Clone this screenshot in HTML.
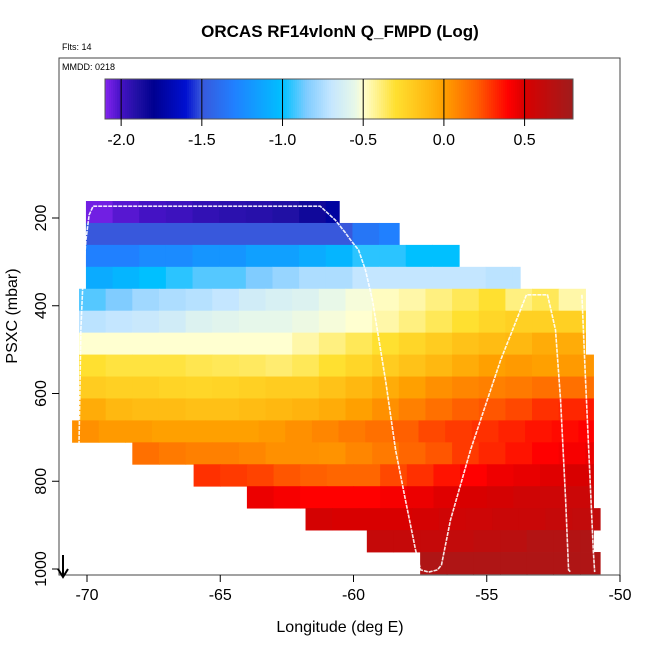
<!DOCTYPE html>
<html><head><meta charset="utf-8"><style>
html,body{margin:0;padding:0;background:#fff;overflow:hidden;width:650px;height:650px;}
svg{display:block;}
svg text{font-family:"Liberation Sans",sans-serif;}
</style></head><body>
<svg id="chart" width="650" height="650" viewBox="0 0 650 650">
<text x="340" y="37" text-anchor="middle" font-size="17" font-weight="bold">ORCAS RF14vlonN Q_FMPD (Log)</text>
<text x="62" y="50" font-size="9">Flts: 14</text>
<text x="62" y="70" font-size="9">MMDD: 0218</text>
<g id="cells"></g>
<g id="track"></g>
<g id="cbar"></g>
<rect x="59" y="58" width="561" height="517" fill="none" stroke="#444" stroke-width="1"/>
<g id="axes"></g>
<text x="340" y="632" text-anchor="middle" font-size="16">Longitude (deg E)</text>
<text transform="translate(17,316) rotate(-90)" text-anchor="middle" font-size="16">PSXC (mbar)</text>
<g><line x1="63" y1="555" x2="63" y2="576" stroke="#000" stroke-width="2"/><path d="M58 569 L63 577 L68 569" fill="none" stroke="#000" stroke-width="2"/></g>
</svg>
<script>
const xTicks=[-70,-65,-60,-55,-50];
const yTicks=[200,400,600,800,1000];
const cbTicks=[-2.0,-1.5,-1.0,-0.5,0.0,0.5];
const rowStart=[-70.04,-70.04,-70.04,-70.04,-70.3,-70.3,-70.3,-70.3,-70.3,-70.3,-70.56,-68.3,-66.0,-64.0,-61.8,-59.5,-57.5];
const rowEnd=[-60.54,-58.29,-56.0,-53.75,-51.28,-51.28,-51.28,-51.0,-51.0,-51.0,-51.0,-51.0,-51.0,-51.0,-50.75,-51.0,-50.75];
const rowP0=161.3;
const rowDp=50;
const rowValues=[
[-2.07,-2.03,-2.0,-1.98,-1.95,-1.93,-1.92,-1.9,-1.85,-1.75],
[-1.5,-1.5,-1.5,-1.5,-1.5,-1.5,-1.5,-1.5,-1.5,-1.5,-1.35,-1.3],
[-1.3,-1.3,-1.25,-1.25,-1.2,-1.2,-1.15,-1.15,-1.1,-1.05,-0.95,-0.95,-1.0,-1.0],
[-1.1,-1.05,-1.0,-0.95,-0.9,-0.9,-0.85,-0.8,-0.75,-0.75,-0.7,-0.7,-0.7,-0.7,-0.7,-0.72,-0.72],
[-0.9,-0.85,-0.78,-0.75,-0.73,-0.7,-0.65,-0.62,-0.6,-0.55,-0.52,-0.48,-0.45,-0.4,-0.35,-0.3,-0.4,-0.35,-0.45],
[-0.72,-0.7,-0.68,-0.65,-0.6,-0.58,-0.56,-0.56,-0.54,-0.52,-0.5,-0.45,-0.4,-0.35,-0.3,-0.25,-0.22,-0.22,-0.22],
[-0.5,-0.5,-0.5,-0.5,-0.5,-0.5,-0.5,-0.5,-0.45,-0.4,-0.35,-0.3,-0.25,-0.2,-0.15,-0.12,-0.1,-0.05,-0.05],
[-0.3,-0.32,-0.32,-0.32,-0.34,-0.35,-0.36,-0.38,-0.35,-0.3,-0.25,-0.2,-0.15,-0.1,-0.05,0,0.02,0.0,0.02,0.03],
[-0.2,-0.22,-0.22,-0.24,-0.25,-0.24,-0.22,-0.2,-0.2,-0.15,-0.1,-0.05,0,0.05,0.08,0.1,0.12,0.15,0.15,0.15],
[-0.05,-0.1,-0.12,-0.12,-0.14,-0.14,-0.12,-0.1,-0.08,-0.05,0,0.05,0.1,0.15,0.2,0.22,0.25,0.3,0.32,0.35],
[0.05,0.02,0.02,0.0,0.0,0.0,0.0,0.02,0.05,0.08,0.12,0.15,0.2,0.25,0.28,0.3,0.33,0.36,0.38,0.4],
[0.15,0.12,0.1,0.1,0.08,0.05,0.05,0.04,0.08,0.12,0.18,0.22,0.28,0.32,0.36,0.4,0.42,0.45],
[0.3,0.28,0.26,0.22,0.2,0.18,0.18,0.25,0.3,0.36,0.4,0.44,0.46,0.48,0.5],
[0.45,0.42,0.4,0.4,0.4,0.42,0.45,0.48,0.5,0.52,0.55,0.56,0.57],
[0.52,0.5,0.5,0.5,0.52,0.55,0.56,0.58,0.58,0.6,0.62,0.65],
[0.6,0.6,0.6,0.62,0.64,0.66,0.7,0.7,0.72],
[0.72,0.72,0.72,0.72,0.72,0.72,0.72]
];
const trackLon=[-70.3,-70.26,-70.23,-70.15,-70.04,-69.92,-69.77,-61.25,-60.68,-60.3,-60.11,-59.81,-59.55,-59.29,-58.8,-58.42,-58.05,-57.67,-57.48,-57.18,-56.85,-56.7,-56.36,-55.61,-54.48,-53.51,-52.72,-52.42,-52.23,-52.04,-51.93,-51.85];
const trackP=[717,569,455,341,250,193,173,173,205,234,250,273,319,387,569,729,843,957,1002,1007,1002,991,888,729,524,375,375,455,615,843,1002,1007];
const track2Lon=[-51.43,-51.3,-51.15,-51.0,-50.95];
const track2P=[375,560,760,960,1007];
const NS='http://www.w3.org/2000/svg';
const stops=[[-2.1,'#8424f0'],[-2.0,'#4412c4'],[-1.9,'#2010a4'],[-1.8,'#000090'],[-1.6,'#0010d0'],[-1.5,'#3858dc'],[-1.3,'#2080ff'],[-1.0,'#00c0ff'],[-0.85,'#80ccff'],[-0.7,'#c4e6ff'],[-0.55,'#e8f8e8'],[-0.5,'#ffffd0'],[-0.3,'#ffe030'],[-0.1,'#ffb810'],[0.0,'#ffa000'],[0.2,'#ff6000'],[0.4,'#ff0000'],[0.5,'#d80000'],[0.8,'#a01c1c']];
function hex(c){return [parseInt(c.slice(1,3),16),parseInt(c.slice(3,5),16),parseInt(c.slice(5,7),16)];}
function color(v){
  if(v<=stops[0][0])return stops[0][1];
  for(let i=1;i<stops.length;i++){if(v<=stops[i][0]){const a=stops[i-1],b=stops[i];const t=(v-a[0])/(b[0]-a[0]);const A=hex(a[1]),B=hex(b[1]);return 'rgb('+A.map((x,k)=>Math.round(x+(B[k]-x)*t)).join(',')+')';}}
  return stops[stops.length-1][1];
}
const xs=lon=>87+(lon+70)*26.65;
const ys=p=>218+(p-200)*0.43875;
const cbx=v=>105+(v+2.1)*(468/2.9);
const cells=document.getElementById('cells');
rowValues.forEach((vals,r)=>{
  const y0=ys(rowP0+r*rowDp),y1=ys(rowP0+(r+1)*rowDp);
  vals.forEach((v,c)=>{
    const l0=rowStart[r]+c, l1=Math.min(rowStart[r]+c+1,rowEnd[r]);
    const el=document.createElementNS(NS,'rect');
    el.setAttribute('x',xs(l0));el.setAttribute('y',y0);
    el.setAttribute('width',xs(l1)-xs(l0)+0.6);el.setAttribute('height',Math.min(y1-y0+0.4,575-y0));
    el.setAttribute('fill',color(v));
    
    
    cells.appendChild(el);
  });
});
const track=document.getElementById('track');
[[trackLon,trackP],[track2Lon,track2P]].forEach(([lo,pr])=>{
  const pl=document.createElementNS(NS,'polyline');
  pl.setAttribute('points',lo.map((l,i)=>xs(l)+','+ys(pr[i])).join(' '));
  pl.setAttribute('fill','none');pl.setAttribute('stroke','#fff');pl.setAttribute('stroke-width','1.6');pl.setAttribute('stroke-dasharray','4 1');pl.setAttribute('opacity','0.9');
  
  
  track.appendChild(pl);
});
const cb=document.getElementById('cbar');
for(let i=0;i<234;i++){
  const v=-2.1+2.9*(i+0.5)/234;
  const el=document.createElementNS(NS,'rect');
  el.setAttribute('x',105+i*2);el.setAttribute('y',79);el.setAttribute('width',2.3);el.setAttribute('height',40);el.setAttribute('fill',color(v));
  
  
  cb.appendChild(el);
}
const cbf=document.createElementNS(NS,'rect');
cbf.setAttribute('x',105);cbf.setAttribute('y',79);cbf.setAttribute('width',468);cbf.setAttribute('height',40);cbf.setAttribute('fill','none');cbf.setAttribute('stroke','#555');


cb.appendChild(cbf);
cbTicks.forEach(v=>{
  const x=cbx(v);
  const ln=document.createElementNS(NS,'line');
  ln.setAttribute('x1',x);ln.setAttribute('x2',x);ln.setAttribute('y1',79);ln.setAttribute('y2',126);ln.setAttribute('stroke','#000');ln.setAttribute('stroke-width','1');
  
  
  cb.appendChild(ln);
  const t=document.createElementNS(NS,'text');
  t.setAttribute('x',x);t.setAttribute('y',145);t.setAttribute('text-anchor','middle');t.setAttribute('font-size','16');
  t.textContent=v.toFixed(1);
  
  
  cb.appendChild(t);
});
const ax=document.getElementById('axes');
xTicks.forEach(v=>{
  const x=xs(v);
  const ln=document.createElementNS(NS,'line');
  ln.setAttribute('x1',x);ln.setAttribute('x2',x);ln.setAttribute('y1',575);ln.setAttribute('y2',582);ln.setAttribute('stroke','#000');
  
  
  ax.appendChild(ln);
  const t=document.createElementNS(NS,'text');
  t.setAttribute('x',x);t.setAttribute('y',600);t.setAttribute('text-anchor','middle');t.setAttribute('font-size','16');
  t.textContent=v;
  
  
  ax.appendChild(t);
});
yTicks.forEach(v=>{
  const y=ys(v);
  const ln=document.createElementNS(NS,'line');
  ln.setAttribute('x1',52);ln.setAttribute('x2',59);ln.setAttribute('y1',y);ln.setAttribute('y2',y);ln.setAttribute('stroke','#000');
  
  
  ax.appendChild(ln);
  const t=document.createElementNS(NS,'text');
  t.setAttribute('transform','translate(46,'+y+') rotate(-90)');t.setAttribute('text-anchor','middle');t.setAttribute('font-size','16');
  t.textContent=v;
  
  
  ax.appendChild(t);
});
</script>
</body></html>
